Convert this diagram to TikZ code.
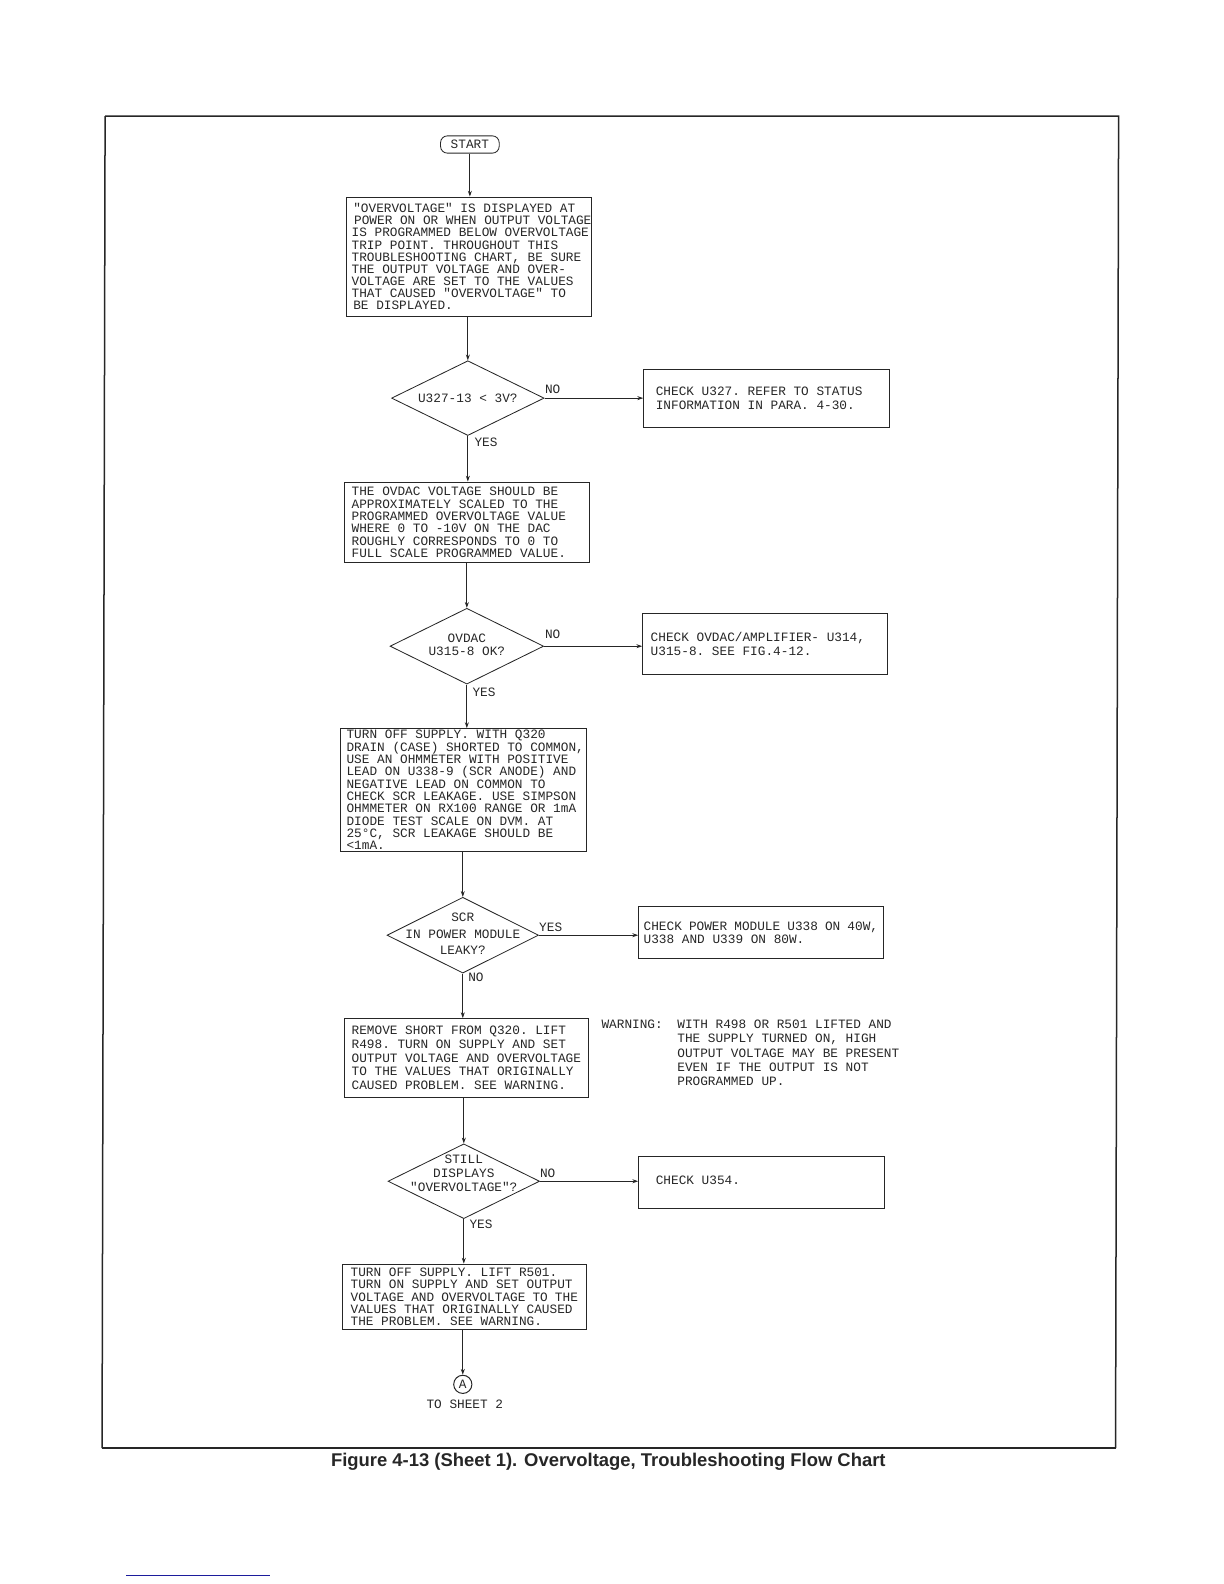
\documentclass[tikz,border=0pt]{standalone}
\usepackage{fontspec}
\newfontfamily\plotfont{Liberation Mono}
\newfontfamily\capfont{Liberation Sans}
\usetikzlibrary{shapes.geometric,arrows.meta}
\definecolor{rulecol}{HTML}{1C1C9C}
\newcommand{\pxu}{0.606}
\newcommand{\plotset}[1]{\plotfont\fontsize{7.65}{#1}\selectfont\frenchspacing}
\newcommand{\longline}[1]{\makebox[0pt][l]{#1}}
\tikzset{
  x=0.606pt,y=-0.606pt,
  ls/.style={font=\plotset{#1}},
  every node/.style={ls=8.1,text=black!85},
  boxnode/.style n args={3}{draw=black!85,line width=0.55pt,rectangle,inner ysep=0pt,inner xsep=#3*\pxu pt,
     text width=#1*\pxu pt-2*#3*\pxu pt,minimum height=#2*\pxu pt,align=flush left,anchor=center},
  decision/.style n args={2}{draw=black!85,line width=0.5pt,diamond,aspect=2.03,inner sep=0pt,
     minimum width=#1*\pxu pt,minimum height=#2*\pxu pt,anchor=center},
  flow/.style={draw=black!85,line width=0.5pt,-{Stealth[length=3.5pt,width=2.4pt]}},
  lbl/.style={inner sep=0pt,anchor=center},
}
% #1 raise, #2 line spacing, #3 text
\newcommand{\dtext}[3]{\makebox[0pt]{\smash{\raisebox{#1}{\parbox[c]{110pt}{\centering\plotset{#2}#3}}}}}
\begin{document}
\begin{tikzpicture}
\useasboundingbox (0,0) rectangle (1211.3,1567.6);
% frame
\draw[line width=0.9pt,black!85] (104,115) -- (1107,115) -- (1104,1433);
\draw[line width=0.9pt,black!85] (104,115) -- (101,1433);
\draw[line width=1.5pt,black!85] (101,1433) -- (1104,1433);
% nodes
\node[draw=black!85,line width=0.5pt,rounded corners=4pt,inner sep=0pt,minimum width=58*\pxu pt,minimum height=17*\pxu pt,anchor=center] (start) at (465,143) {START};
\node[boxnode={242}{118}{5},ls=7.3] (b1) at (464,254) {\hspace*{1pt}"OVERVOLTAGE" IS DISPLAYED AT\\\hspace*{1.5pt}\longline{POWER ON OR WHEN OUTPUT VOLTAGE}\\\longline{IS PROGRAMMED BELOW OVERVOLTAGE}\\TRIP POINT. THROUGHOUT THIS\\TROUBLESHOOTING CHART, BE SURE\\THE OUTPUT VOLTAGE AND OVER-\\VOLTAGE ARE SET TO THE VALUES\\THAT CAUSED "OVERVOLTAGE" TO\\\hspace*{1pt}BE DISPLAYED.};
\node[decision={151}{74}] (d1) at (463,394) {\dtext{-2.4pt}{8.1}{U327-13 < 3V?}};
\node[boxnode={243}{57}{12},ls=8.4] (c1) at (758.5,394.5) {CHECK U327. REFER TO STATUS\\INFORMATION IN PARA. 4-30.};
\node[boxnode={242}{80}{7},ls=7.4] (b2) at (462,517) {THE OVDAC VOLTAGE SHOULD BE\\APPROXIMATELY SCALED TO THE\\PROGRAMMED OVERVOLTAGE VALUE\\WHERE 0 TO -10V ON THE DAC\\ROUGHLY CORRESPONDS TO 0 TO\\FULL SCALE PROGRAMMED VALUE.};
\node[decision={152}{75}] (d2) at (462,639.5) {\dtext{-1.2pt}{8}{OVDAC\\U315-8 OK?}};
\node[boxnode={242}{60}{8},ls=8.2] (c2) at (757,637) {CHECK OVDAC/AMPLIFIER- U314,\\U315-8. SEE FIG.4-12.};
\node[boxnode={243}{122}{6},ls=7.4] (b3) at (458.5,782) {TURN OFF SUPPLY. WITH Q320\\\longline{DRAIN (CASE) SHORTED TO COMMON,}\\USE AN OHMMETER WITH POSITIVE\\LEAD ON U338-9 (SCR ANODE) AND\\NEGATIVE LEAD ON COMMON TO\\CHECK SCR LEAKAGE. USE SIMPSON\\OHMMETER ON RX100 RANGE OR 1mA\\DIODE TEST SCALE ON DVM. AT\\25°C, SCR LEAKAGE SHOULD BE\\<1mA.};
\node[decision={150}{75}] (d3) at (458,925.5) {\dtext{-1.2pt}{10}{SCR\\IN POWER MODULE\\LEAKY?}};
\node[boxnode={242}{52}{5},ls=8.2] (c3) at (753,923) {CHECK POWER MODULE U338 ON 40W,\\U338 AND U339 ON 80W.};
\node[boxnode={241}{78}{7},ls=8.2] (b4) at (461.5,1047) {REMOVE SHORT FROM Q320. LIFT\\R498. TURN ON SUPPLY AND SET\\OUTPUT VOLTAGE AND OVERVOLTAGE\\TO THE VALUES THAT ORIGINALLY\\CAUSED PROBLEM. SEE WARNING.};
\node[inner sep=0pt,anchor=north west,align=flush left] (wl) at (595,1009) {WARNING:};
\node[inner sep=0pt,anchor=north west,align=flush left,ls=8.6] (wt) at (670,1009) {WITH R498 OR R501 LIFTED AND\\THE SUPPLY TURNED ON, HIGH\\OUTPUT VOLTAGE MAY BE PRESENT\\EVEN IF THE OUTPUT IS NOT\\PROGRAMMED UP.};
\node[decision={150}{74}] (d4) at (459,1169) {\dtext{3pt}{8.4}{STILL\\DISPLAYS\\"OVERVOLTAGE"?}};
\node[boxnode={243}{52}{17}] (c4) at (753.5,1170) {\raisebox{3pt}{CHECK U354.}};
\node[boxnode={241}{65}{8},ls=7.4] (b5) at (459.5,1283.5) {TURN OFF SUPPLY. LIFT R501.\\TURN ON SUPPLY AND SET OUTPUT\\VOLTAGE AND OVERVOLTAGE TO THE\\VALUES THAT ORIGINALLY CAUSED\\THE PROBLEM. SEE WARNING.};
\node[draw=black!85,line width=0.6pt,circle,inner sep=0pt,minimum size=18*\pxu pt,anchor=center] (a) at (458,1370) {A};
\node[lbl] (sheet) at (460,1390) {TO SHEET 2};
% labels
\node[lbl] (n1) at (547,385) {NO};
\node[lbl] (y1) at (481,438) {YES};
\node[lbl] (n2) at (547,628) {NO};
\node[lbl] (y2) at (479,685) {YES};
\node[lbl] (y3) at (545,918) {YES};
\node[lbl] (n3) at (471,967) {NO};
\node[lbl] (n4) at (542,1161) {NO};
\node[lbl] (y4) at (476,1212) {YES};
% caption
\node[inner sep=0pt,anchor=center,font=\capfont\bfseries\fontsize{11.05}{12}\selectfont] (cap) at (602,1447) {Figure 4-13 (Sheet 1). Overvoltage, Troubleshooting Flow Chart};
\coordinate (ru1) at (125,1559);
\coordinate (ru2) at (267,1559);
\draw[line width=0.6pt,rulecol] (ru1) -- (ru2);
% connectors
\draw[flow] (start.south) -- (start.south |- b1.north);
\draw[flow] (d1.north |- b1.south) -- (d1.north);
\draw[flow] (d1.south) -- (d1.south |- b2.north);
\draw[flow] (d1.east) -- (d1.east -| c1.west);
\draw[flow] (d2.north |- b2.south) -- (d2.north);
\draw[flow] (d2.south) -- (d2.south |- b3.north);
\draw[flow] (d2.east) -- (d2.east -| c2.west);
\draw[flow] (d3.north |- b3.south) -- (d3.north);
\draw[flow] (d3.south) -- (d3.south |- b4.north);
\draw[flow] (d3.east) -- (d3.east -| c3.west);
\draw[flow] (d4.north |- b4.south) -- (d4.north);
\draw[flow] (d4.south) -- (d4.south |- b5.north);
\draw[flow] (d4.east) -- (d4.east -| c4.west);
\draw[flow] (a.north |- b5.south) -- (a.north);
\end{tikzpicture}
\end{document}
